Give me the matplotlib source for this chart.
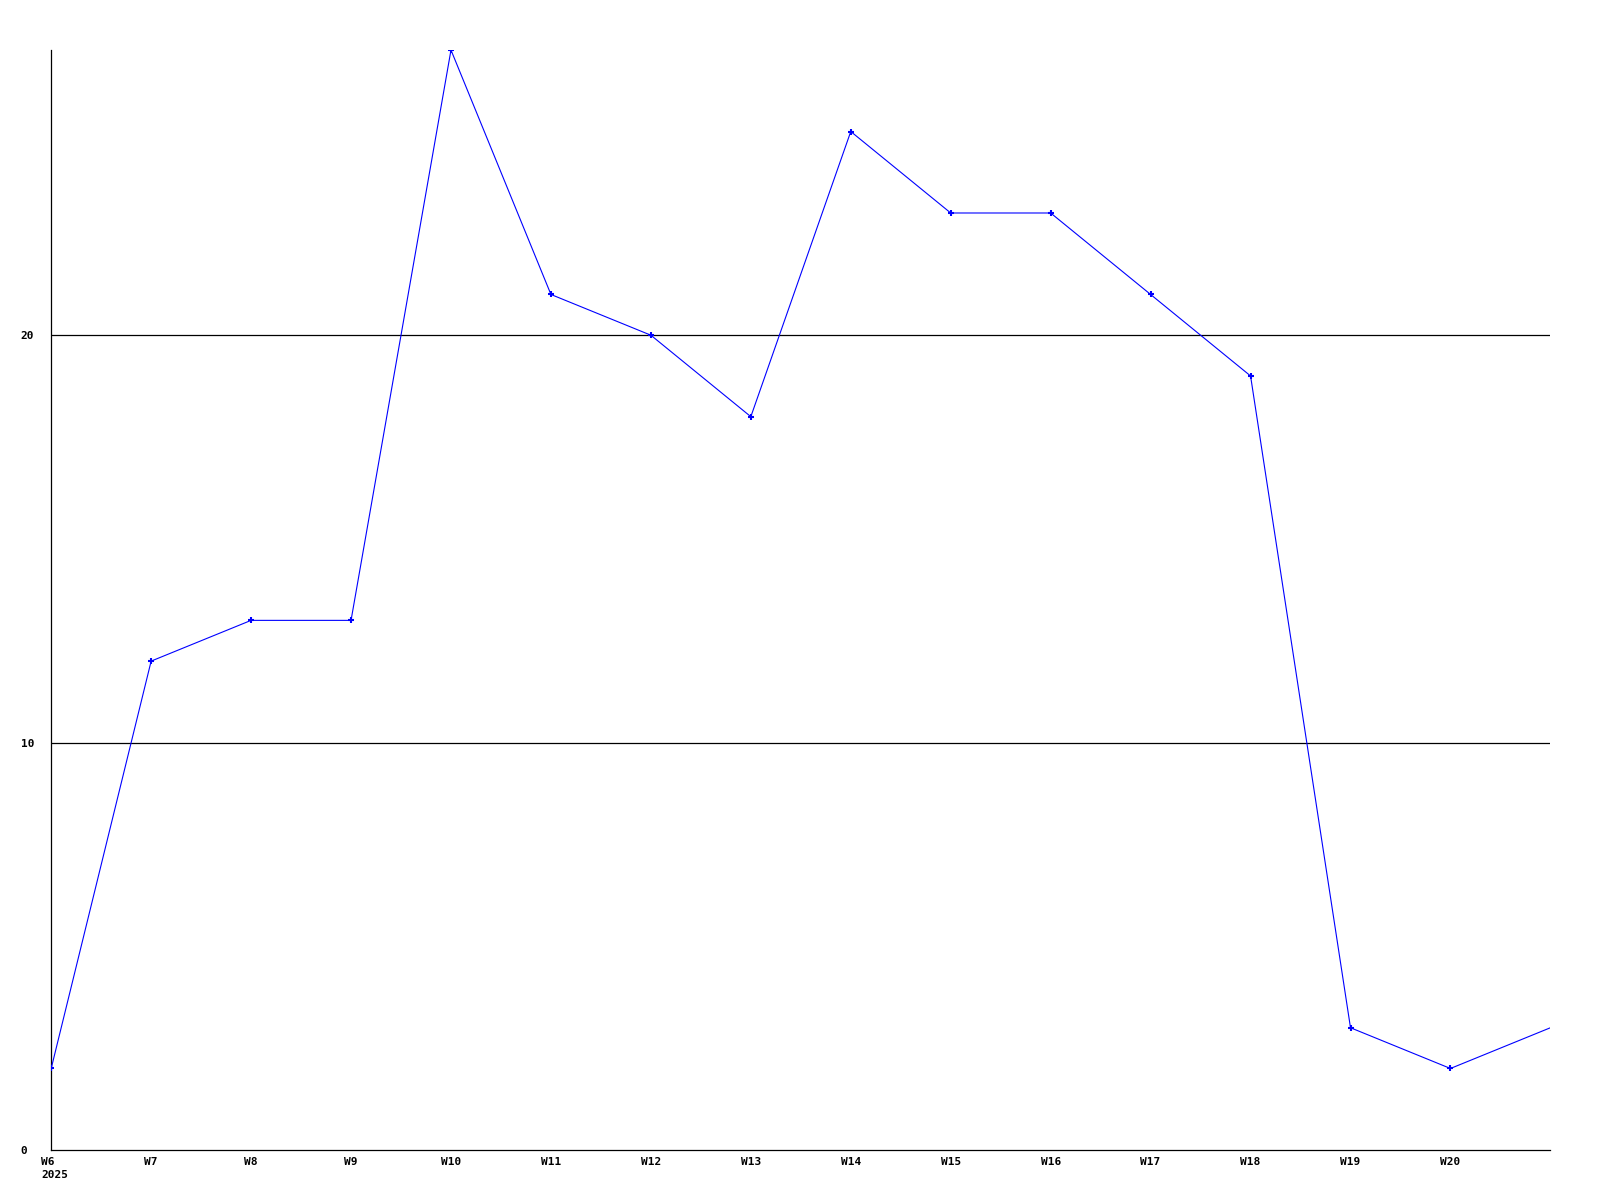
import matplotlib
matplotlib.use('Agg')
import matplotlib.pyplot as plt
import matplotlib.transforms as mtransforms
import numpy as np

weeks = [6, 7, 8, 9, 10, 11, 12, 13, 14, 15, 16, 17, 18, 19, 20, 21]
values = [2, 12, 13, 13, 27, 21, 20, 18, 25, 23, 23, 21, 19, 3, 2, 3]
tick_weeks = weeks[:-1]
tick_labels = ['W%d' % w for w in tick_weeks]
tick_labels[0] = 'W6\n2025'
y_ticks = [0, 10, 20]

fig = plt.figure(figsize=(16, 12), dpi=100)
ax = fig.add_axes([0.032, 0.0417, 0.937, 0.9166])

# last point sits on the right edge, drawn without a marker
ax.plot(weeks, values, color='#0000ff', linewidth=0.8,
        marker='+', markersize=4, markeredgewidth=1.5,
        markevery=list(range(len(weeks) - 1)), zorder=3)

for y in [10, 20]:
    ax.axhline(y, color='black', linewidth=0.9, zorder=1)

ax.set_xlim(6, 21)
ax.set_ylim(0, 27)

for s in ['top', 'right']:
    ax.spines[s].set_visible(False)
for s in ['left', 'bottom']:
    ax.spines[s].set_linewidth(0.9)
    ax.spines[s].set_color('black')

font = dict(family='DejaVu Sans Mono', weight='bold', size=8)

ax.set_xticks(tick_weeks)
ax.set_xticklabels(tick_labels, **font)
ax.tick_params(axis='x', length=0, pad=5)
lab0 = ax.get_xticklabels()[0]
lab0.set_horizontalalignment('left')
lab0.set_multialignment('left')
lab0.set_linespacing(1.4)
lab0.set_transform(lab0.get_transform() + mtransforms.ScaledTranslation(-10 / 100, 0, fig.dpi_scale_trans))

ax.set_yticks(y_ticks)
ax.set_yticklabels([str(v) for v in y_ticks], **font)
ax.tick_params(axis='y', length=0, pad=22)
for lab in ax.get_yticklabels():
    lab.set_horizontalalignment('left')

plt.savefig('out.png', dpi=100)
